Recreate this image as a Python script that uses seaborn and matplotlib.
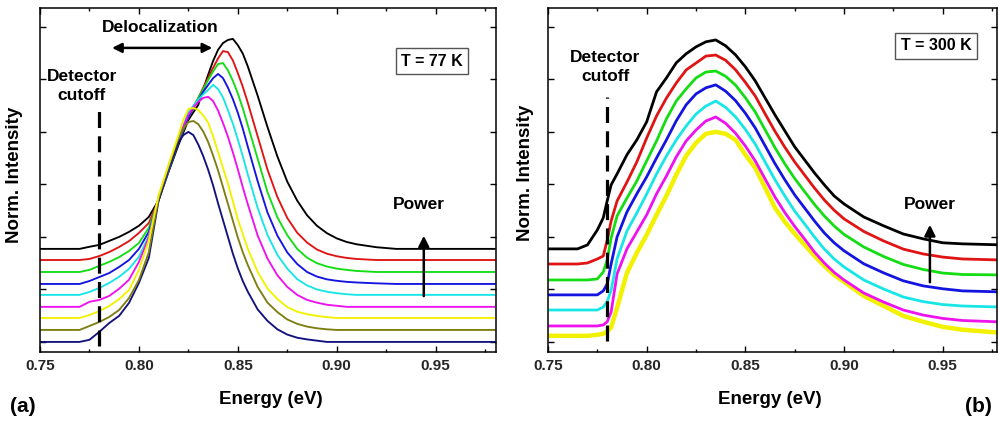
import numpy as np
import pandas as pd
import matplotlib
matplotlib.use("Agg")
import matplotlib.pyplot as plt
from matplotlib.ticker import MultipleLocator, FormatStrFormatter
import seaborn as sns

# ---------------- data (a) T = 77 K ----------------
energy_77 = [0.750, 0.770, 0.775, 0.780, 0.785, 0.790, 0.795, 0.800, 0.805, 0.810,
             0.815, 0.820, 0.8225, 0.825, 0.8275, 0.830, 0.8325, 0.835, 0.8375, 0.840,
             0.8425, 0.845, 0.8475, 0.850, 0.8525, 0.855, 0.860, 0.865, 0.870, 0.875,
             0.880, 0.885, 0.890, 0.895, 0.900, 0.905, 0.910, 0.920, 0.930, 0.940, 0.980]
powers_77 = ["P1", "P2", "P3", "P4", "P5", "P6", "P7", "P8", "P9"]
offsets_77 = [0.0, 0.057, 0.114, 0.167, 0.224, 0.276, 0.333, 0.390, 0.443]
int77_p1 = [0, 0, 0.01, 0.048, 0.09, 0.124, 0.186, 0.281, 0.40, 0.676, 0.829, 0.952,
            0.985, 1.0, 0.985, 0.94, 0.885, 0.82, 0.745, 0.66, 0.58, 0.50, 0.42, 0.35, 0.29, 0.24,
            0.155, 0.10, 0.06, 0.035, 0.02, 0.012, 0.006, 0, 0, 0, 0, 0, 0, 0, 0]
int77_p2 = [0, 0, 0.019, 0.038, 0.062, 0.095, 0.152, 0.238, 0.37, 0.629, 0.781, 0.914,
            0.96, 0.99, 0.995, 0.98, 0.945, 0.895, 0.83, 0.76, 0.68, 0.60, 0.52, 0.44, 0.37, 0.31,
            0.205, 0.13, 0.085, 0.05, 0.029, 0.016, 0.008, 0.003, 0, 0, 0, 0, 0, 0, 0]
int77_p3 = [0, 0, 0.014, 0.033, 0.057, 0.090, 0.133, 0.229, 0.37, 0.586, 0.729, 0.871,
            0.945, 0.995, 1.0, 0.99, 0.965, 0.93, 0.865, 0.79, 0.715, 0.64, 0.555, 0.47, 0.40,
            0.33, 0.22, 0.14, 0.09, 0.052, 0.03, 0.018, 0.01, 0.004, 0, 0, 0, 0, 0, 0, 0]
int77_p4 = [0, 0, 0.024, 0.033, 0.052, 0.086, 0.129, 0.214, 0.33, 0.524, 0.667, 0.800,
            0.86, 0.914, 0.95, 0.976, 0.995, 1.0, 0.98, 0.935, 0.875, 0.81, 0.735, 0.655, 0.57,
            0.49, 0.34, 0.23, 0.15, 0.095, 0.057, 0.033, 0.02, 0.01, 0.005, 0, 0, 0, 0, 0, 0]
int77_p5 = [0, 0, 0.014, 0.033, 0.057, 0.086, 0.124, 0.181, 0.281, 0.467, 0.605, 0.738,
            0.805, 0.871, 0.90, 0.929, 0.955, 0.976, 1.0, 0.98, 0.94, 0.88, 0.815, 0.74, 0.66,
            0.575, 0.415, 0.285, 0.19, 0.125, 0.075, 0.045, 0.026, 0.015, 0.008, 0.003, 0, 0,
            0, 0, 0]
int77_p6 = [0, 0, 0.014, 0.033, 0.052, 0.081, 0.114, 0.167, 0.248, 0.400, 0.543, 0.676,
            0.74, 0.795, 0.84, 0.876, 0.915, 0.948, 0.98, 1.0, 0.98, 0.935, 0.88, 0.815, 0.74,
            0.655, 0.49, 0.34, 0.23, 0.15, 0.095, 0.057, 0.035, 0.022, 0.015, 0.01, 0.007,
            0.003, 0, 0, 0]
int77_p7 = [0, 0, 0.01, 0.029, 0.048, 0.071, 0.1, 0.138, 0.21, 0.343, 0.486, 0.619,
            0.68, 0.738, 0.785, 0.829, 0.87, 0.914, 0.955, 0.99, 0.995, 0.96, 0.91, 0.85, 0.78,
            0.70, 0.54, 0.38, 0.26, 0.175, 0.11, 0.068, 0.042, 0.026, 0.016, 0.01, 0.005, 0, 0,
            0, 0]
int77_p8 = [0, 0, 0.005, 0.019, 0.038, 0.062, 0.09, 0.129, 0.176, 0.286, 0.429, 0.562,
            0.62, 0.681, 0.725, 0.771, 0.82, 0.867, 0.915, 0.96, 0.995, 0.99, 0.95, 0.89, 0.825,
            0.75, 0.59, 0.43, 0.30, 0.20, 0.13, 0.083, 0.05, 0.03, 0.018, 0.01, 0.005, 0, 0, 0, 0]
int77_p9 = [0, 0, 0.01, 0.019, 0.038, 0.057, 0.081, 0.11, 0.152, 0.233, 0.367, 0.495,
            0.555, 0.614, 0.65, 0.686, 0.76, 0.829, 0.895, 0.948, 0.98, 0.995, 1.0, 0.97, 0.93,
            0.87, 0.73, 0.58, 0.44, 0.32, 0.23, 0.16, 0.11, 0.075, 0.05, 0.033, 0.022, 0.008, 0,
            0, 0]
colors_77 = ["#12127e", "#7e7e12", "#f2f200", "#ee12ee", "#18e6e6", "#1414e0", "#14dd14",
             "#e01414", "#000000"]

# ---------------- data (b) T = 300 K ----------------
energy_300 = [0.750, 0.765, 0.770, 0.775, 0.778, 0.780, 0.782, 0.785, 0.790, 0.795, 0.800,
              0.805, 0.810, 0.815, 0.820, 0.825, 0.830, 0.835, 0.840, 0.845, 0.850, 0.855,
              0.860, 0.865, 0.870, 0.875, 0.880, 0.885, 0.890, 0.895, 0.900, 0.910, 0.920,
              0.930, 0.940, 0.950, 0.960, 0.980]
powers_300 = ["P1", "P2", "P3", "P4", "P5", "P6", "P7"]
offsets_300 = [0.029, 0.076, 0.152, 0.224, 0.295, 0.371, 0.443]
int300_p1 = [0, 0, 0, 0.005, 0.01, 0.02, 0.04, 0.133, 0.30, 0.395, 0.481, 0.576, 0.667, 0.767,
             0.857, 0.919, 0.962, 0.971, 0.962, 0.933, 0.862, 0.80, 0.705, 0.61, 0.543, 0.486,
             0.433, 0.381, 0.333, 0.29, 0.257, 0.19, 0.143, 0.095, 0.067, 0.043, 0.029, 0.014]
int300_p2 = [0, 0, 0, 0, 0.005, 0.02, 0.067, 0.248, 0.367, 0.448, 0.529, 0.629, 0.714, 0.805,
             0.881, 0.933, 0.976, 0.995, 0.965, 0.918, 0.857, 0.786, 0.70, 0.614, 0.54, 0.474,
             0.414, 0.352, 0.3, 0.255, 0.219, 0.157, 0.114, 0.076, 0.052, 0.036, 0.026, 0.019]
int300_p3 = [0, 0, 0, 0, 0.014, 0.04, 0.095, 0.243, 0.376, 0.462, 0.552, 0.648, 0.733, 0.81,
             0.876, 0.933, 0.971, 0.995, 0.965, 0.92, 0.86, 0.79, 0.705, 0.62, 0.543, 0.471,
             0.41, 0.348, 0.29, 0.243, 0.205, 0.143, 0.1, 0.062, 0.04, 0.026, 0.019, 0.014]
int300_p4 = [0, 0, 0, 0, 0.019, 0.052, 0.148, 0.276, 0.395, 0.481, 0.562, 0.652, 0.738, 0.829,
             0.905, 0.957, 0.986, 1.0, 0.97, 0.925, 0.865, 0.795, 0.71, 0.625, 0.548, 0.476,
             0.414, 0.352, 0.295, 0.248, 0.21, 0.148, 0.105, 0.067, 0.043, 0.029, 0.019, 0.014]
int300_p5 = [0, 0, 0, 0.005, 0.038, 0.095, 0.2, 0.305, 0.39, 0.471, 0.567, 0.662, 0.767, 0.852,
             0.91, 0.962, 0.99, 0.995, 0.97, 0.928, 0.868, 0.80, 0.715, 0.63, 0.553, 0.483,
             0.421, 0.36, 0.305, 0.257, 0.217, 0.157, 0.112, 0.074, 0.05, 0.033, 0.026, 0.024]
int300_p6 = [0, 0, 0.005, 0.024, 0.038, 0.114, 0.205, 0.30, 0.39, 0.486, 0.60, 0.705, 0.79,
             0.862, 0.924, 0.957, 0.99, 0.995, 0.97, 0.925, 0.865, 0.80, 0.715, 0.632, 0.556,
             0.486, 0.424, 0.362, 0.305, 0.256, 0.215, 0.155, 0.11, 0.071, 0.048, 0.033, 0.024,
             0.019]
int300_p7 = [0, 0, 0.019, 0.09, 0.148, 0.229, 0.305, 0.357, 0.448, 0.519, 0.605, 0.748, 0.814,
             0.886, 0.929, 0.962, 0.986, 0.995, 0.967, 0.924, 0.867, 0.80, 0.719, 0.638, 0.562,
             0.486, 0.424, 0.362, 0.305, 0.252, 0.214, 0.152, 0.11, 0.071, 0.048, 0.029, 0.024,
             0.019]
colors_300 = ["#f2f200", "#ee12ee", "#18e6e6", "#1414e0", "#14dd14", "#e01414", "#000000"]

cutoff_energy = 0.78

# ---------------- figure ----------------
sns.set_style("ticks")
plt.rcParams["font.family"] = ["Liberation Sans", "DejaVu Sans"]
plt.rcParams["font.weight"] = "bold"

W, H = 999, 422
fig = plt.figure(figsize=(W / 100, H / 100), dpi=100)
fig.patch.set_facecolor("white")


def fx(px):
    return px / W


def fy(py):
    return 1 - py / H


axL = fig.add_axes([fx(40), fy(352), (496 - 40) / W, (352 - 8) / H])
axR = fig.add_axes([fx(548), fy(352), (997 - 548) / W, (352 - 8) / H])


def build(energy, powers, offsets, series):
    frames = []
    for p, off, vals in zip(powers, offsets, series):
        frames.append(pd.DataFrame({"energy": energy,
                                    "intensity": np.asarray(vals) + off,
                                    "power": p}))
    return frames


frames77 = build(energy_77, powers_77, offsets_77,
                 [int77_p1, int77_p2, int77_p3, int77_p4, int77_p5, int77_p6,
                  int77_p7, int77_p8, int77_p9])
frames300 = build(energy_300, powers_300, offsets_300,
                  [int300_p1, int300_p2, int300_p3, int300_p4, int300_p5, int300_p6,
                   int300_p7])

order77 = [8, 7, 6, 5, 4, 3, 0, 1, 2]
for i in order77:
    sns.lineplot(data=frames77[i], x="energy", y="intensity", color=colors_77[i],
                 lw=1.35, estimator=None, sort=False, ax=axL, legend=False)

for i in range(len(frames300)):
    sns.lineplot(data=frames300[i], x="energy", y="intensity", color=colors_300[i],
                 lw=3.2 if i == 0 else 2.0, estimator=None, sort=False, ax=axR,
                 legend=False)

for ax, xmax in ((axL, 0.9805), (axR, 0.9775)):
    ax.set_xlim(0.75, xmax)
    ax.set_ylim(-0.048, 1.59)
    ax.xaxis.set_major_locator(MultipleLocator(0.05))
    ax.xaxis.set_minor_locator(MultipleLocator(0.025))
    ax.xaxis.set_major_formatter(FormatStrFormatter("%.2f"))
    ax.yaxis.set_major_locator(MultipleLocator(0.25))
    ax.tick_params(which="both", direction="in", top=True, right=True, left=True,
                   bottom=True, labelleft=False, width=1.0, color="black")
    ax.tick_params(which="major", length=4, labelsize=11, pad=5)
    ax.tick_params(which="minor", length=2.5)
    for lab in ax.get_xticklabels():
        lab.set_fontweight("bold")
    ax.set_xlabel("")
    ax.set_ylabel("")
    for s in ax.spines.values():
        s.set_visible(True)
        s.set_linewidth(1.1)
        s.set_color("black")

# detector cutoff dashed lines
axL.vlines(cutoff_energy, -0.019, 1.135, colors="black", lw=2.3,
           linestyles=(0, (5, 2.6)))
axR.vlines(cutoff_energy, 0.005, 1.167, colors="black", lw=2.3,
           linestyles=(0, (5, 2.6)))

# power arrows
axL.annotate("", xy=(0.944, 0.519), xytext=(0.944, 0.205),
             arrowprops=dict(arrowstyle="-|>", color="black", lw=1.8, mutation_scale=16))
axR.annotate("", xy=(0.9435, 0.571), xytext=(0.9435, 0.271),
             arrowprops=dict(arrowstyle="-|>", color="black", lw=1.8, mutation_scale=16))

# delocalization double arrow
axL.annotate("", xy=(0.8385, 1.40), xytext=(0.7850, 1.40),
             arrowprops=dict(arrowstyle="<|-|>", color="black", lw=1.8, mutation_scale=14))

bold = dict(fontweight="bold", color="black")
fig.text(fx(160), fy(27), "Delocalization", ha="center", va="center", fontsize=12.5, **bold)
fig.text(fx(82), fy(86), "Detector\ncutoff", ha="center", va="center", fontsize=12.5,
         linespacing=1.35, **bold)
fig.text(fx(605), fy(67), "Detector\ncutoff", ha="center", va="center", fontsize=12.5,
         linespacing=1.35, **bold)
fig.text(fx(419), fy(205), "Power", ha="center", va="center", fontsize=12.5, **bold)
fig.text(fx(930), fy(205), "Power", ha="center", va="center", fontsize=12.5, **bold)
box = dict(boxstyle="square,pad=0.35", fc="white", ec="#555555", lw=1.0)
fig.text(fx(432), fy(61), "T = 77 K", ha="center", va="center", fontsize=11.5, bbox=box, **bold)
fig.text(fx(936), fy(46), "T = 300 K", ha="center", va="center", fontsize=11.5, bbox=box,
         **bold)

fig.text(fx(15), fy(175), "Norm. Intensity", rotation=90, ha="center", va="center",
         fontsize=13.5, **bold)
fig.text(fx(526), fy(173), "Norm. Intensity", rotation=90, ha="center", va="center",
         fontsize=13.5, **bold)
fig.text(fx(271), fy(400), "Energy (eV)", ha="center", va="center", fontsize=13.5, **bold)
fig.text(fx(770), fy(400), "Energy (eV)", ha="center", va="center", fontsize=13.5, **bold)
fig.text(fx(23), fy(406), "(a)", ha="center", va="center", fontsize=15, **bold)
fig.text(fx(978), fy(406), "(b)", ha="center", va="center", fontsize=15, **bold)

fig.savefig("out.png", dpi=100, facecolor="white")
